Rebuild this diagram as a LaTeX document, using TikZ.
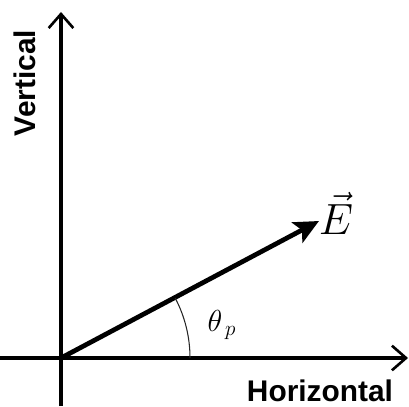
\documentclass[tikz,border=0pt]{standalone}
\usepackage{fontspec}
\setsansfont{Liberation Sans}
\usetikzlibrary{arrows.meta,positioning}

\begin{document}
\begin{tikzpicture}[
  x=0.02cm, y=0.02cm,
  axis/.style={line width=2pt, black, -{Straight Barb[length=8pt,width=14pt,line width=1.5pt]}},
  vecline/.style={line width=2.7pt, black, -{Stealth[length=14pt,width=13pt,inset=3pt]}},
  anglearc/.style={line width=0.6pt, black!85},
  axislbl/.style={font=\fontsize{17}{20}\selectfont\sffamily\bfseries, inner sep=0pt},
  mathlbl/.style={inner sep=0pt}
]
\useasboundingbox (0,0) rectangle (409,406);

%% ── Axes ─────────────────────────────────────────────────────────────
\coordinate (O)    at (61,48);
\coordinate (xlo)  at (0,48);
\coordinate (xhi)  at (408,48);
\coordinate (ylo)  at (61,0);
\coordinate (yhi)  at (61,394);
\draw[axis] (xlo) -- (xhi);
\draw[axis] (ylo) -- (yhi);

\node[axislbl, rotate=90] (vlab) at (25,323) {Vertical};
\node[axislbl] (hlab) at (320,15) {Horizontal};

%% ── Field vector ─────────────────────────────────────────────────────
\coordinate (tip) at (319,185);
\draw[vecline] (O) -- (tip);
\node[mathlbl, font=\fontsize{25}{29}\selectfont] (elab) at (336,193) {$\vec{E}$};

%% ── Polarisation angle ───────────────────────────────────────────────
\draw[anglearc] (O) ++(129,0) arc[start angle=0, end angle=27.7, radius=129];
\node[mathlbl, font=\fontsize{17}{20}\selectfont] (thlab) at (222,81) {$\theta_{\,p}$};

\end{tikzpicture}
\end{document}
